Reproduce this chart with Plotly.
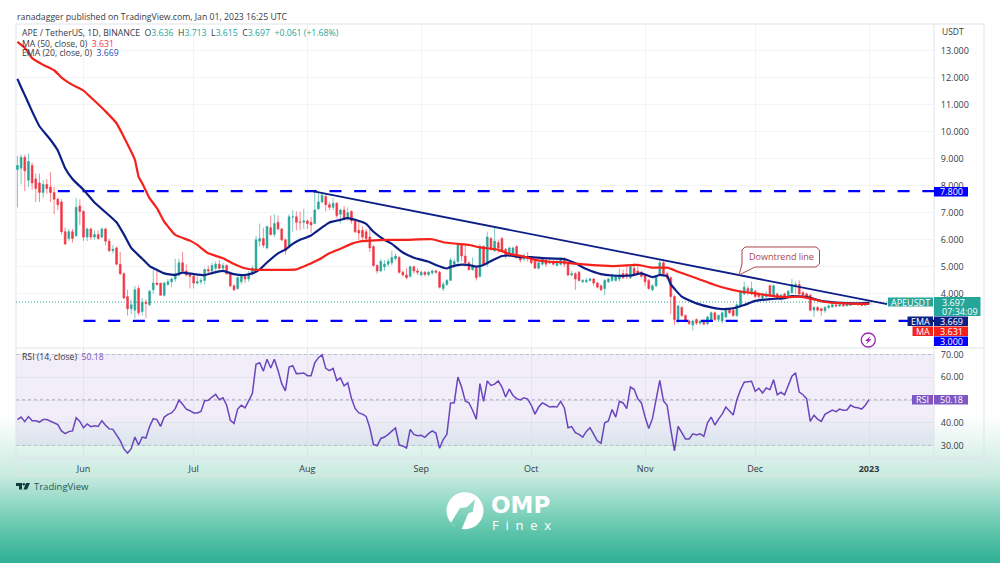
import math

import pandas as pd
import plotly.graph_objects as go

start = pd.Timestamp("2022-05-14")

opens = [8.6,8.65,9.05,8.2,8.75,8.25,8.1,7.75,8.05,7.95,7.75,7.5,7.4,6.3,6.05,6.3,6.15,7.25,7.05,6.1,
         6.4,6.1,6.2,6.1,6.4,5.95,5.6,5.7,5.1,4.75,3.9,3.45,3.4,4.2,3.35,3.7,3.6,4.15,4.4,4.4,
         3.95,4.35,4.45,4.55,4.7,5.15,4.85,4.7,4.65,4.4,4.45,4.5,4.9,4.85,4.95,5.1,4.95,5.05,4.75,4.3,
         4.2,4.45,4.65,4.55,4.75,4.9,5.95,6.05,5.7,6.45,6.2,6.65,6.4,6.0,5.75,6.85,6.85,6.65,6.65,6.7,
         6.65,6.6,7.15,7.4,7.6,7.3,7.2,7.35,6.95,7.1,6.8,7.05,6.7,6.35,6.35,6.3,6.1,5.75,5.05,4.85,
         5.0,5.1,5.15,5.3,5.35,4.8,4.7,4.65,5.0,4.85,4.7,4.8,4.72,4.78,4.85,4.8,4.2,4.35,4.5,5.1,
         5.2,5.8,5.4,5.15,4.9,4.95,4.65,5.75,5.1,6.05,5.6,5.9,6.05,5.65,5.4,5.45,5.75,5.4,5.3,5.4,
         5.3,5.2,4.95,5.1,5.25,5.15,5.2,5.05,5.1,5.25,5.15,4.7,4.75,4.8,4.45,4.45,4.5,4.55,4.4,4.3,
         4.2,4.45,4.5,4.5,4.55,4.75,4.75,4.6,4.95,4.85,4.8,4.7,4.5,4.15,4.3,4.7,5.15,4.75,4.6,3.9,
         3.05,3.5,3.2,3.0,2.85,3.05,2.92,3.0,2.9,3.0,3.3,3.05,3.0,3.15,3.45,3.4,3.2,3.55,4.0,4.2,
         4.0,4.1,4.0,3.85,3.9,4.3,3.95,4.0,3.8,4.0,3.9,4.05,4.3,4.35,4.05,4.0,3.95,3.4,3.5,3.45,
         3.38,3.5,3.52,3.6,3.55,3.6,3.56,3.58,3.65,3.62,3.6,3.58,3.636]
highs = [9.1,9.15,9.15,9.2,8.85,8.45,8.45,8.2,8.25,8.5,7.95,7.55,7.5,6.45,6.4,6.4,7.55,7.5,7.1,6.45,
         6.45,6.35,6.35,6.45,6.45,6.05,5.8,5.75,5.55,4.8,4.15,3.8,4.3,4.3,3.85,3.8,4.15,4.9,4.85,4.4,
         4.45,4.55,4.6,5.3,5.3,5.55,5.1,4.8,4.7,4.65,4.6,4.95,5.05,5.15,5.2,5.25,5.15,5.1,4.8,4.35,
         4.65,4.7,4.75,4.85,5.05,6.15,6.6,6.45,6.5,6.9,6.95,6.9,6.45,6.05,6.95,7.1,7.05,7.05,7.15,6.75,
         6.85,7.8,7.8,7.75,7.7,7.4,7.55,7.4,7.15,7.25,7.2,7.1,6.8,6.7,6.5,6.4,6.4,5.8,5.1,5.3,
         5.25,5.3,5.6,5.5,5.4,4.85,4.95,5.05,5.05,4.95,4.85,4.85,4.85,4.9,4.9,4.85,4.45,4.55,5.35,5.3,
         5.85,5.85,5.8,5.2,5.35,5.0,5.85,5.8,6.3,6.1,6.45,6.0,6.1,5.7,5.75,5.75,5.8,5.45,5.5,5.55,
         5.35,5.25,5.2,5.35,5.3,5.35,5.25,5.25,5.35,5.35,5.2,4.85,4.8,4.85,4.55,4.6,4.6,4.6,4.45,4.35,
         4.55,4.6,4.75,4.7,4.95,4.9,5.1,5.05,5.15,5.1,4.85,4.75,4.55,4.35,4.7,5.25,5.25,4.8,4.65,3.95,
         3.6,3.55,3.25,3.05,3.05,3.1,3.05,3.05,3.2,3.35,3.35,3.25,3.35,3.5,3.5,3.45,3.65,4.15,4.45,4.3,
         4.45,4.15,4.05,4.05,4.1,4.35,4.35,4.05,4.0,4.05,4.15,4.55,4.45,4.5,4.1,4.05,4.0,3.55,3.55,3.5,
         3.55,3.6,3.65,3.62,3.65,3.63,3.63,3.68,3.68,3.65,3.64,3.66,3.713]
lows = [7.2,8.05,7.8,7.95,7.85,7.4,7.4,7.55,7.7,7.4,6.95,7.1,6.2,5.8,5.95,5.9,6.1,6.55,5.95,5.95,
        6.0,6.0,6.0,6.05,5.8,5.55,5.5,5.05,4.7,3.8,3.2,3.25,3.1,3.2,3.2,3.1,3.55,4.0,4.3,3.95,
        3.9,4.3,4.25,4.45,4.65,4.8,4.65,4.2,4.2,4.35,4.35,4.35,4.7,4.75,4.85,4.9,4.85,4.7,4.25,4.1,
        4.15,4.35,4.4,4.45,4.7,4.85,5.75,5.7,5.65,6.15,6.1,6.35,5.95,5.45,5.7,6.3,6.35,6.35,6.4,6.4,
        6.25,6.6,7.1,7.35,7.05,7.1,7.1,6.8,6.6,6.75,6.7,6.6,6.25,6.0,6.0,5.9,5.55,5.0,4.75,4.8,
        4.85,5.0,5.05,5.25,4.75,4.65,4.55,4.6,4.75,4.7,4.65,4.65,4.65,4.7,4.75,4.2,4.1,4.3,4.5,4.95,
        5.05,5.2,5.0,4.85,4.85,4.5,4.6,5.05,5.0,5.6,5.55,5.5,5.55,5.3,5.35,5.4,5.3,5.15,5.2,5.2,
        5.1,4.95,4.9,5.05,5.0,5.1,5.05,5.05,5.05,5.0,4.65,4.65,4.15,4.45,4.4,4.4,4.45,4.3,4.2,4.1,
        3.95,4.4,4.45,4.45,4.45,4.55,4.55,4.55,4.65,4.7,4.6,4.3,4.15,4.1,4.25,4.65,4.7,4.55,3.25,2.85,
        2.9,3.15,2.95,2.85,2.65,2.85,2.85,2.85,2.85,2.95,3.0,2.95,2.9,3.1,3.25,3.15,3.15,3.5,3.95,3.95,
        3.95,3.85,3.8,3.8,3.85,3.9,3.9,3.8,3.75,3.85,3.85,4.0,4.0,3.95,3.85,3.85,3.35,3.15,3.35,3.2,
        3.3,3.45,3.48,3.5,3.52,3.53,3.54,3.55,3.6,3.58,3.55,3.56,3.615]
closes = [8.75,9.05,8.55,8.9,8.1,7.9,7.75,8.05,7.9,7.75,7.5,7.3,6.3,5.85,6.3,6.05,7.2,7.05,6.1,6.4,
          6.1,6.2,6.05,6.4,5.95,5.6,5.65,5.1,4.75,3.85,3.45,3.6,4.15,3.3,3.7,3.65,4.1,4.4,4.35,3.95,
          4.4,4.45,4.55,4.75,5.15,4.85,4.7,4.65,4.4,4.45,4.5,4.9,4.85,5.05,5.1,4.95,5.05,4.75,4.3,4.15,
          4.6,4.65,4.55,4.75,4.95,6.0,6.05,5.8,6.5,6.2,6.6,6.4,6.0,5.6,6.85,6.85,6.65,6.65,6.7,6.6,
          6.55,7.1,7.4,7.65,7.3,7.2,7.35,6.9,7.1,6.8,7.0,6.7,6.3,6.25,6.1,6.05,5.7,5.05,4.85,5.2,
          5.1,5.2,5.35,5.4,4.8,4.7,4.6,5.0,4.85,4.8,4.8,4.72,4.8,4.85,4.8,4.25,4.35,4.5,5.25,5.2,
          5.8,5.4,5.15,4.9,5.0,4.6,5.75,5.1,6.1,5.65,5.95,5.7,5.6,5.4,5.7,5.7,5.35,5.25,5.4,5.3,
          5.15,4.95,5.15,5.3,5.1,5.15,5.1,5.2,5.25,5.1,4.7,4.75,4.55,4.5,4.5,4.5,4.55,4.4,4.25,4.15,
          4.5,4.55,4.7,4.65,4.7,4.6,4.65,5.0,4.75,4.75,4.65,4.45,4.2,4.3,4.65,5.15,4.75,4.6,3.9,3.05,
          3.55,3.2,3.0,2.9,3.0,2.92,3.0,2.88,3.15,3.3,3.05,3.2,3.3,3.4,3.3,3.2,3.6,4.1,4.25,4.1,
          4.2,3.9,3.9,4.0,4.0,3.95,4.3,3.85,3.95,3.9,4.1,4.35,4.35,4.0,3.95,3.9,3.4,3.5,3.4,3.38,
          3.5,3.55,3.6,3.55,3.6,3.56,3.6,3.65,3.62,3.6,3.58,3.64,3.697]

rsi_values = [41.4,42.5,40.5,42.7,40.9,40.9,40.3,41.4,41.4,40.6,39.7,39.2,36.4,35.2,36.1,36.4,42.2,40.6,37.8,39.5,
              38.3,38.7,38.4,40.9,38.9,37.3,37.1,34.5,32.1,28.5,26.7,28.6,33.7,30.2,33.7,33.3,38.3,41.8,41.4,38.4,
              42.5,43.7,44.3,46.2,49.9,48.1,46.0,45.3,44.3,44.3,45.0,49.7,49.9,51.3,52.5,50.1,51.0,47.7,41.1,39.7,
              46.0,47.7,46.5,49.6,52.8,65.7,66.4,62.7,67.9,64.1,67.9,63.0,57.2,54.0,64.5,65.1,61.6,61.7,61.9,60.7,
              60.7,66.3,68.6,69.9,63.9,62.9,63.9,58.6,59.7,56.2,57.5,50.6,46.3,44.3,43.8,42.8,37.8,30.5,29.9,33.1,
              33.7,34.9,36.4,37.7,30.2,29.8,28.9,37.1,34.9,34.3,34.5,33.6,35.2,36.4,35.5,28.8,32.6,34.9,48.7,48.8,
              60.1,55.7,49.6,48.8,45.5,41.5,57.2,49.4,58.4,56.4,57.0,58.4,55.7,51.3,54.8,52.0,50.6,50.0,51.0,50.4,
              47.7,43.8,46.9,48.7,47.9,46.9,47.1,46.9,49.4,46.5,37.8,38.3,35.6,34.9,33.7,36.2,37.8,35.2,32.0,31.0,
              40.0,40.8,45.8,42.5,49.4,48.7,46.2,55.7,54.7,50.6,48.7,42.5,37.5,41.8,50.6,58.6,49.6,47.7,37.0,27.6,
              38.4,35.5,32.9,32.9,35.1,34.6,35.1,34.0,40.0,42.5,39.0,41.6,43.8,46.9,45.2,43.4,50.1,54.5,57.8,57.9,
              58.2,53.8,55.1,53.1,55.3,54.5,58.9,52.3,53.4,52.3,56.6,60.5,61.9,53.5,52.3,50.6,40.6,43.3,41.6,40.6,
              43.7,44.7,45.6,44.9,46.0,45.5,45.6,47.8,46.8,46.6,46.0,47.7,50.18]

ema_days = [0,1,2,4,6,9,11,13,15,18,21,24,27,29,31,34,36,38,40,43,45,48,51,53,56,59,62,64,66,68,71,73,75,77,80,83,85,88,
            90,92,95,97,100,102,105,108,112,114,117,118,121,123,125,127,130,132,134,137,140,143,149,152,155,159,162,167,
            170,173,175,177,178,181,185,189,192,195,198,201,205,209,211,215,219,223,228,232]
ema_values = [11.95,11.64,11.35,10.75,10.2,9.7,9.3,8.65,8.25,7.85,7.38,7.02,6.65,6.2,5.7,5.3,5.03,4.89,4.76,4.7,4.79,4.73,4.69,4.77,4.85,4.73,4.7,4.76,4.9,5.16,5.5,5.64,5.85,6.0,6.16,6.46,6.64,6.74,
              6.8,6.74,6.59,6.3,6.0,5.85,5.53,5.34,5.19,5.07,4.94,5.0,5.08,5.07,5.01,5.07,5.28,5.4,5.42,5.36,5.36,5.32,5.29,5.13,4.92,4.73,4.68,4.68,
              4.76,4.62,4.7,4.66,4.35,3.9,3.65,3.5,3.44,3.47,3.59,3.74,3.81,3.84,3.92,3.89,3.74,3.68,3.65,3.669]

ma_days = [0,2,4,7,10,12,15,18,21,24,27,29,32,33,34,36,38,40,43,47,49,52,56,59,62,65,69,72,76,78,82,85,88,
           91,93,96,101,106,113,116,120,123,126,131,134,138,141,145,149,151,156,162,169,173,177,180,185,190,193,197,201,206,210,213,217,220,225,232]
ma_values = [13.32,13.1,12.72,12.47,12.27,12.0,11.73,11.52,11.14,10.75,10.31,9.8,8.96,8.34,8.09,7.54,7.17,6.67,6.18,5.97,5.81,5.5,5.32,5.11,4.95,4.89,4.89,4.89,4.91,5.01,5.26,5.5,5.67,
             5.85,5.93,5.97,6.0,6.0,6.02,5.91,5.85,5.81,5.72,5.63,5.48,5.38,5.26,5.19,5.17,5.13,5.07,5.03,5.07,4.97,4.97,4.82,4.58,4.33,4.21,4.09,4.02,3.92,3.88,3.9,3.8,3.7,3.65,3.631]

price_ticks = [4,5,6,7,8,9,10,11,12,13]
rsi_ticks = [30,40,50,60,70]
month_ticks = ["2022-06-01","2022-07-01","2022-08-01","2022-09-01","2022-10-01","2022-11-01","2022-12-01","2023-01-01"]
month_labels = ["Jun","Jul","Aug","Sep","Oct","Nov","Dec","<b>2023</b>"]

resistance = 7.8
support = 3.0
last_close = 3.697
trend_dates = ["2022-08-02 09:00","2023-01-05 22:00"]
trend_values = [7.8,3.62]

TEAL = "#26a69a"
RED = "#f23645"
NAVY = "#0c1f85"
MA_RED = "#f5221b"
BLUE = "#0000ff"
PURPLE = "#7e57c2"
GRID = "rgba(235,238,245,0.65)"
BORDER = "#dfe3ea"
TEXT = "#363a45"
FONT = "Open Sans"


def px(x):
    return x / 1000


def py(y):
    return 1 - y / 563


def path(points):
    return "M " + " L ".join(f"{px(x):.5f} {py(y):.5f}" for x, y in points) + " Z"


dates = [start + pd.Timedelta(days=i) for i in range(len(closes))]
ema_dates = [start + pd.Timedelta(days=d) for d in ema_days]
ma_dates = [start + pd.Timedelta(days=d) for d in ma_days]
x_range = ["2022-05-13 14:38", "2023-01-18 17:00"]

fig = go.Figure()
fig.add_trace(go.Candlestick(
    x=dates, open=opens, high=highs, low=lows, close=closes,
    increasing=dict(line=dict(color=TEAL, width=0.6), fillcolor=TEAL),
    decreasing=dict(line=dict(color=RED, width=0.6), fillcolor=RED),
    whiskerwidth=0, xaxis="x", yaxis="y", showlegend=False,
))
fig.add_trace(go.Scatter(x=x_range, y=[last_close, last_close], mode="lines",
                         line=dict(color=TEAL, width=1, dash="1px,2px"), xaxis="x", yaxis="y"))
fig.add_trace(go.Scatter(x=["2022-05-25", x_range[1]], y=[resistance, resistance], mode="lines",
                         line=dict(color=BLUE, width=2.2, dash="12px,12.7px"), xaxis="x", yaxis="y"))
fig.add_trace(go.Scatter(x=["2022-06-01", x_range[1]], y=[support, support], mode="lines",
                         line=dict(color=BLUE, width=2.2, dash="12px,12.7px"), xaxis="x", yaxis="y"))
fig.add_trace(go.Scatter(x=ema_dates, y=ema_values, mode="lines",
                         line=dict(color=NAVY, width=2.2, shape="spline", smoothing=0.4), xaxis="x", yaxis="y"))
fig.add_trace(go.Scatter(x=ma_dates, y=ma_values, mode="lines",
                         line=dict(color=MA_RED, width=2.2, shape="spline", smoothing=0.4), xaxis="x", yaxis="y"))
fig.add_trace(go.Scatter(x=trend_dates, y=trend_values, mode="lines",
                         line=dict(color=NAVY, width=1.8), xaxis="x", yaxis="y"))
fig.add_trace(go.Scatter(x=dates, y=rsi_values, mode="lines",
                         line=dict(color="#6a45bd", width=1.5), xaxis="x2", yaxis="y2"))

shapes = []

# page gradient, white into the teal footer
stops = [(415, (255, 255, 255)), (440, (232, 246, 242)), (475, (200, 234, 223)),
         (500, (150, 218, 199)), (530, (95, 197, 171)), (563, (45, 175, 148))]
for y in range(415, 563, 2):
    for (y0, c0), (y1, c1) in zip(stops, stops[1:]):
        if y0 <= y <= y1:
            t = (y - y0) / (y1 - y0)
            col = tuple(round(a + (b - a) * t) for a, b in zip(c0, c1))
            break
    shapes.append(dict(type="rect", xref="paper", yref="paper", layer="below", line_width=0,
                       x0=0, x1=1, y0=max(py(y + 2.5), 0), y1=py(y), fillcolor=f"rgb{col}"))

shapes.append(dict(type="rect", xref="x2 domain", yref="y2", layer="below", line_width=0,
                   x0=0, x1=1, y0=30, y1=70, fillcolor="rgba(126,87,194,0.1)"))
for level in [30, 50, 70]:
    shapes.append(dict(type="line", xref="x2 domain", yref="y2", layer="below", x0=0, x1=1, y0=level, y1=level,
                       line=dict(color="#8f919c", width=1, dash="3px,3px")))

# card frame
for x0, y0, x1, y1 in [(16, 24, 984, 24), (16, 24, 16, 475), (984, 24, 984, 475), (16, 475, 984, 475),
                       (934, 24, 934, 475), (16, 348, 984, 348), (16, 458, 984, 458)]:
    shapes.append(dict(type="line", xref="paper", yref="paper", layer="below",
                       x0=px(x0), x1=px(x1), y0=py(y0), y1=py(y1), line=dict(color=BORDER, width=1)))

annotations = []


def label(x, y, text, size=9, color=TEXT, anchor="left", family=FONT):
    annotations.append(dict(xref="paper", yref="paper", x=px(x), y=py(y), text=text, showarrow=False,
                            xanchor=anchor, yanchor="middle", borderpad=0,
                            font=dict(size=size, color=color, family=family)))


def box(x0, y0, x1, y1, color, text=None, y_text=None):
    shapes.append(dict(type="rect", xref="paper", yref="paper", line_width=0, fillcolor=color,
                       x0=px(x0), x1=px(x1), y0=py(y1), y1=py(y0)))
    if text:
        label((x0 + x1) / 2, y_text or (y0 + y1) / 2, text, 9, "white", "center")


# axis labels on the right
box(934, 187, 968, 196.5, BLUE, "7.800")
box(934, 297, 980.5, 316, TEAL)
label(941, 302, "3.697", 9, "white")
label(941, 311, "07:34:09", 9, "white")
box(888, 297.5, 933, 306.5, TEAL, "APEUSDT")
box(907.5, 316.5, 933, 326, NAVY, "EMA")
box(934, 316.5, 968, 326, NAVY, "3.669")
box(912.5, 326.5, 933, 336, MA_RED, "MA")
box(934, 326.5, 968, 336, MA_RED, "3.631")
box(934, 336.5, 968, 346, BLUE, "3.000")
box(912, 395, 933, 404.5, PURPLE, "RSI")
box(934, 395, 968, 404.5, PURPLE, "50.18")
label(941, 32, "USDT", 8.5)

# header and legends
label(16, 17, "ranadagger published on TradingView.com, Jan 01, 2023 16:25 UTC", 8.7)
label(21, 33, "APE / TetherUS, 1D, BINANCE&nbsp;&nbsp;"
              f"O<span style='color:{TEAL}'>3.636</span>&nbsp;&nbsp;H<span style='color:{TEAL}'>3.713</span>&nbsp;&nbsp;"
              f"L<span style='color:{TEAL}'>3.615</span>&nbsp;&nbsp;C<span style='color:{TEAL}'>3.697</span>&nbsp;&nbsp;"
              f"<span style='color:{TEAL}'>+0.061 (+1.68%)</span>", 8.7)
label(21, 43.5, f"MA (50, close, 0)&nbsp;&nbsp;<span style='color:{RED}'>3.631</span>", 8.7)
label(21, 53.5, f"EMA (20, close, 0)&nbsp;&nbsp;<span style='color:#2a4fb5'>3.669</span>", 8.7)
label(21, 357, f"RSI (14, close)&nbsp;&nbsp;<span style='color:{PURPLE}'>50.18</span>", 8.7)

# downtrend callout
shapes.append(dict(type="path", xref="paper", yref="paper", fillcolor="white",
                   line=dict(color="#a8464a", width=1),
                   path=path([(745, 247), (816, 247), (819.5, 250), (819.5, 264), (816, 267), (755, 267),
                              (739, 275), (742, 264), (742, 250)])))
label(781, 256.5, "Downtrend line", 9, "#a8464a", "center")

# bolt marker
shapes.append(dict(type="circle", xref="paper", yref="paper", fillcolor="white",
                   line=dict(color="#9c27b0", width=1.3),
                   x0=px(861.3), x1=px(875.3), y0=py(347), y1=py(333)))
shapes.append(dict(type="path", xref="paper", yref="paper", fillcolor="#9c27b0", line_width=0,
                   path=path([(870.5, 336), (865, 341), (867.8, 341), (866, 344.5), (871.5, 339.3), (868.7, 339.3)])))

# TradingView mark
shapes.append(dict(type="path", xref="paper", yref="paper", fillcolor="#123c3c", line_width=0,
                   path=path([(16, 483), (22, 483), (22, 489.5), (19, 489.5), (19, 486), (16, 486)])))
shapes.append(dict(type="circle", xref="paper", yref="paper", fillcolor="#123c3c", line_width=0,
                   x0=px(22.5), x1=px(25), y0=py(485.5), y1=py(483)))
shapes.append(dict(type="path", xref="paper", yref="paper", fillcolor="#123c3c", line_width=0,
                   path=path([(26, 483), (30, 483), (27, 489.5), (23.5, 489.5)])))
label(33, 486, "TradingView", 9.5, "#1d5a58")

# OMP Finex logo, a disc with a wedge cut out of its lower left
disc = []
for deg in range(-80 + 180, 350 + 180 - 80, 10):
    disc.append((465 + 18.5 * math.cos(math.radians(deg + 18)), 510.7 + 18.5 * math.sin(math.radians(deg + 18))))
shapes.append(dict(type="path", xref="paper", yref="paper", fillcolor="white", line_width=0,
                   path=path(disc + [(461.7, 528.9), (468.3, 513.3), (472.7, 511.7), (475, 499.3),
                                     (466.7, 507.3), (460, 508), (451, 522.8)])))
label(490, 505, "<b>OMP</b>", 23, "white", family="DejaVu Sans")
label(491, 525, "F\u00a0\u00a0i\u00a0\u00a0n\u00a0\u00a0e\u00a0\u00a0x", 13, "white")

fig.update_layout(
    width=1000, height=563,
    margin=dict(l=0, r=0, t=0, b=0),
    paper_bgcolor="white", plot_bgcolor="rgba(0,0,0,0)",
    showlegend=False,
    font=dict(family=FONT, size=9, color=TEXT),
    shapes=shapes, annotations=annotations,
    xaxis=dict(domain=[px(16), px(934)], anchor="y", type="date", range=x_range,
               rangeslider=dict(visible=False), tickvals=month_ticks, showticklabels=False,
               showgrid=True, gridcolor=GRID, zeroline=False, showline=False),
    xaxis2=dict(domain=[px(16), px(934)], anchor="y2", type="date", range=x_range,
                tickvals=month_ticks, ticktext=month_labels, ticks="outside", ticklen=2,
                tickcolor="rgba(0,0,0,0)", showgrid=True, gridcolor="rgba(215,220,232,0.6)", zeroline=False,
                tickfont=dict(size=9, color=TEXT)),
    yaxis=dict(domain=[py(348), py(24)], anchor="x", side="right", range=[2.0, 13.98],
               tickvals=price_ticks, ticktext=[f"{v:.3f}" for v in price_ticks],
               ticks="outside", ticklen=4, tickcolor="rgba(0,0,0,0)", showgrid=True, gridcolor=GRID,
               zeroline=False, tickfont=dict(size=9, color=TEXT)),
    yaxis2=dict(domain=[py(458), py(348)], anchor="x2", side="right", range=[24.5, 72.86],
                tickvals=rsi_ticks, ticktext=[f"{v:.2f}" for v in rsi_ticks],
                ticks="outside", ticklen=4, tickcolor="rgba(0,0,0,0)", showgrid=True,
                gridcolor="rgba(215,220,232,0.6)", zeroline=False, tickfont=dict(size=9, color=TEXT)),
)

fig.write_html("out.html", config={"displayModeBar": False}, post_script="document.body.style.margin='0';")
